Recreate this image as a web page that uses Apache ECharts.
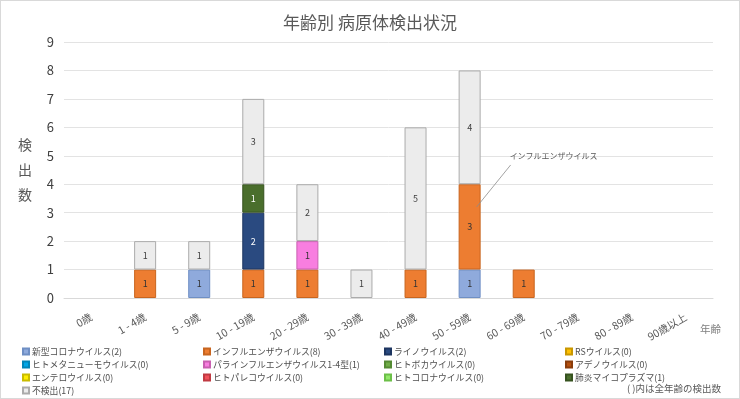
<!DOCTYPE html>
<html>
<head>
<meta charset="utf-8">
<script src="https://cdn.jsdelivr.net/npm/echarts@6/dist/echarts.min.js"></script>
<style>
  html, body { margin: 0; padding: 0; background: #fff; }
  #chart { width: 740px; height: 399px; box-sizing: border-box; border: 1px solid #d9d9d9; }
</style>
</head>
<body>
<div id="chart"></div>
<script>
// 年齢区分
var ageGroups = ["0歳", "1 - 4歳", "5 - 9歳", "10 - 19歳", "20 - 29歳", "30 - 39歳",
  "40 - 49歳", "50 - 59歳", "60 - 69歳", "70 - 79歳", "80 - 89歳", "90歳以上"];

// 病原体ごとの検出数（年齢区分順）
var covid19   = [0, 0, 1, 0, 0, 0, 0, 1, 0, 0, 0, 0];
var influenza = [0, 1, 0, 1, 1, 0, 1, 3, 1, 0, 0, 0];
var rhino     = [0, 0, 0, 2, 0, 0, 0, 0, 0, 0, 0, 0];
var rsv       = [0, 0, 0, 0, 0, 0, 0, 0, 0, 0, 0, 0];
var hmpv      = [0, 0, 0, 0, 0, 0, 0, 0, 0, 0, 0, 0];
var para      = [0, 0, 0, 0, 1, 0, 0, 0, 0, 0, 0, 0];
var boca      = [0, 0, 0, 0, 0, 0, 0, 0, 0, 0, 0, 0];
var adeno     = [0, 0, 0, 0, 0, 0, 0, 0, 0, 0, 0, 0];
var entero    = [0, 0, 0, 0, 0, 0, 0, 0, 0, 0, 0, 0];
var parecho   = [0, 0, 0, 0, 0, 0, 0, 0, 0, 0, 0, 0];
var hcov      = [0, 0, 0, 0, 0, 0, 0, 0, 0, 0, 0, 0];
var mycoplasma= [0, 0, 0, 1, 0, 0, 0, 0, 0, 0, 0, 0];
var notFound  = [0, 1, 1, 3, 2, 1, 5, 4, 0, 0, 0, 0];

var pathogens = [
  { name: "新型コロナウイルス(2)", data: covid19, color: "#8faadc", border: "#6f8fc4", text: "#333" },
  { name: "インフルエンザウイルス(8)", data: influenza, color: "#ed7d31", border: "#c8651f", text: "#333" },
  { name: "ライノウイルス(2)", data: rhino, color: "#2a4a80", border: "#1d3560", text: "#fff" },
  { name: "RSウイルス(0)", data: rsv, color: "#ffc000", border: "#c99700", text: "#333" },
  { name: "ヒトメタニューモウイルス(0)", data: hmpv, color: "#00a6e6", border: "#0085b8", text: "#333" },
  { name: "パラインフルエンザウイルス1-4型(1)", data: para, color: "#f87ee0", border: "#c860b0", text: "#333" },
  { name: "ヒトボカウイルス(0)", data: boca, color: "#70ad47", border: "#548a33", text: "#333" },
  { name: "アデノウイルス(0)", data: adeno, color: "#b5500f", border: "#8a3c0b", text: "#fff" },
  { name: "エンテロウイルス(0)", data: entero, color: "#ffee00", border: "#c9bb00", text: "#333" },
  { name: "ヒトパレコウイルス(0)", data: parecho, color: "#f0505a", border: "#c03a42", text: "#333" },
  { name: "ヒトコロナウイルス(0)", data: hcov, color: "#92e86a", border: "#6cbf48", text: "#333" },
  { name: "肺炎マイコプラズマ(1)", data: mycoplasma, color: "#4a6e2c", border: "#36521f", text: "#fff" },
  { name: "不検出(17)", data: notFound, color: "#ececec", border: "#ababab", text: "#404040" }
];

var FONT = '"Noto Sans CJK JP", "Noto Sans", sans-serif';

var chart = echarts.init(document.getElementById("chart"));

var seriesList = pathogens.map(function (p) {
  return {
    name: p.name,
    type: "bar",
    stack: "total",
    barWidth: 22,
    data: p.data.map(function (v) { return v === 0 ? "-" : v; }),
    itemStyle: { color: p.color, borderColor: p.border, borderWidth: 1 },
    label: {
      show: true,
      position: "inside",
      color: p.text,
      fontSize: 9,
      fontFamily: FONT
    },
    emphasis: { disabled: true }
  };
});

// 凡例の列
var legendCols = [
  { left: 21, names: [0, 4, 8, 12] },
  { left: 202, names: [1, 5, 9] },
  { left: 383, names: [2, 6, 10] },
  { left: 564, names: [3, 7, 11] }
];

var option = {
  animation: false,
  title: {
    text: "年齢別 病原体検出状況",
    left: "center",
    top: 8,
    textStyle: { fontSize: 17, fontWeight: "normal", color: "#595959", fontFamily: FONT }
  },
  legend: legendCols.map(function (c) {
    return {
      orient: "vertical",
      left: c.left,
      top: 344,
      itemWidth: 6,
      itemHeight: 6,
      itemGap: 0,
      icon: "rect",
      selectedMode: false,
      data: c.names.map(function (i) { return pathogens[i].name; }),
      textStyle: { fontSize: 8.8, color: "#505050", fontFamily: FONT, lineHeight: 13, padding: [0, 0, 0, -2] },
      padding: 0
    };
  }),
  grid: { left: 63, right: 26, top: 41, bottom: 100 },
  xAxis: {
    type: "category",
    data: ageGroups,
    axisLine: { lineStyle: { color: "#d9d9d9" } },
    axisTick: { show: false },
    axisLabel: { rotate: 30, margin: 18, color: "#595959", fontSize: 10.5, fontFamily: FONT, interval: 0 }
  },
  yAxis: {
    type: "value",
    min: 0,
    max: 9,
    interval: 1,
    name: "検\n出\n数",
    nameLocation: "middle",
    nameRotate: 0,
    nameGap: 32,
    nameTextStyle: { color: "#595959", fontSize: 14, lineHeight: 25, fontFamily: FONT, padding: [30, 0, 0, 0] },
    axisLine: { show: false },
    axisTick: { show: false },
    axisLabel: { color: "#404040", fontSize: 13, margin: 10, fontFamily: FONT },
    splitLine: { lineStyle: { color: "#e3e3e3" } }
  },
  series: seriesList
};

chart.setOption(option);

// インフルエンザの吹き出し（50-59歳の棒に沿える）
var anchor = chart.convertToPixel({ xAxisIndex: 0, yAxisIndex: 0 }, ["50 - 59歳", 3.2]);
chart.setOption({
  graphic: [
    {
      type: "line",
      shape: { x1: anchor[0] + 7, y1: anchor[1], x2: anchor[0] + 41, y2: anchor[1] - 42 },
      style: { stroke: "#8c8c8c", lineWidth: 0.8 },
      z: 100
    },
    {
      type: "text",
      left: anchor[0] + 40,
      top: anchor[1] - 55,
      style: { text: "インフルエンザウイルス", fontSize: 8, fill: "#595959", fontFamily: FONT },
      z: 100
    },
    {
      type: "text",
      right: 18,
      top: 323,
      style: { text: "年齢", fontSize: 10.5, fill: "#7f7f7f", fontFamily: FONT }
    },
    {
      type: "text",
      right: 18,
      top: 383,
      style: { text: "( )内は全年齢の検出数", fontSize: 9.5, fill: "#595959", fontFamily: FONT }
    }
  ]
});
</script>
</body>
</html>
